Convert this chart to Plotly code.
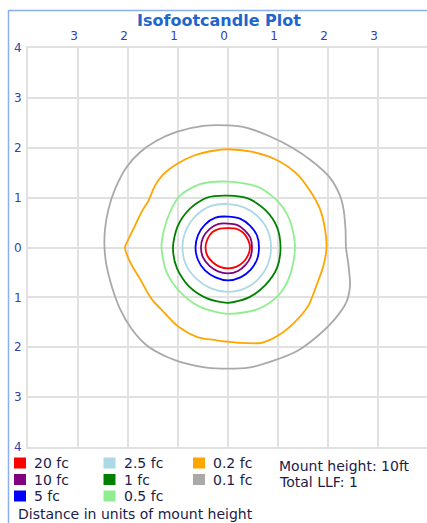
import plotly.graph_objects as go

# ---------------- data ----------------
levels = ["20 fc", "10 fc", "5 fc", "2.5 fc", "1 fc", "0.5 fc", "0.2 fc", "0.1 fc"]
colors = ["#ff0000", "#800080", "#0000ff", "#add8e6", "#008000", "#90ee90", "#ffa500", "#a9a9a9"]

red_x = [0.44, 0.40, 0.30, 0.16, 0.00, -0.16, -0.31, -0.41, -0.45, -0.41, -0.30, -0.16, 0.00, 0.16, 0.30, 0.40, 0.44]
red_y = [0.00, 0.16, 0.30, 0.38, 0.39, 0.38, 0.31, 0.17, 0.00, -0.17, -0.30, -0.39, -0.42, -0.39, -0.30, -0.16, 0.00]

purple_x = [0.48, 0.45, 0.34, 0.19, 0.00, -0.20, -0.37, -0.50, -0.54, -0.50, -0.37, -0.20, 0.00, 0.20, 0.35, 0.45, 0.48]
purple_y = [0.00, 0.19, 0.34, 0.45, 0.48, 0.47, 0.37, 0.20, 0.00, -0.20, -0.37, -0.48, -0.52, -0.47, -0.35, -0.19, 0.00]

blue_x = [0.62, 0.58, 0.44, 0.24, 0.00, -0.25, -0.46, -0.60, -0.65, -0.60, -0.46, -0.25, 0.00, 0.25, 0.45, 0.58, 0.62]
blue_y = [0.00, 0.24, 0.44, 0.58, 0.62, 0.60, 0.46, 0.25, 0.00, -0.25, -0.46, -0.60, -0.66, -0.60, -0.45, -0.24, 0.00]

lblue_x = [0.86, 0.80, 0.61, 0.33, 0.00, -0.35, -0.64, -0.84, -0.91, -0.84, -0.63, -0.34, 0.00, 0.34, 0.62, 0.80, 0.86]
lblue_y = [0.00, 0.33, 0.61, 0.80, 0.87, 0.83, 0.64, 0.35, 0.00, -0.35, -0.63, -0.82, -0.89, -0.82, -0.62, -0.33, 0.00]

green_x = [1.05, 0.98, 0.75, 0.41, 0.00, -0.42, -0.77, -1.01, -1.10, -1.02, -0.78, -0.42, 0.00, 0.42, 0.75, 0.98, 1.05]
green_y = [0.00, 0.41, 0.75, 0.98, 1.04, 1.00, 0.77, 0.42, 0.00, -0.42, -0.78, -1.02, -1.11, -1.00, -0.75, -0.41, 0.00]

lgreen_x = [1.34, 1.24, 1.01, 0.61, 0.00, -0.56, -0.96, -1.16, -1.29, -1.33, -1.23, -0.96, -0.56, 0.00, 0.61, 1.01, 1.24, 1.34]
lgreen_y = [0.00, 0.54, 0.91, 1.21, 1.32, 1.27, 1.04, 0.71, 0.31, 0.00, -0.49, -0.89, -1.19, -1.33, -1.23, -0.96, -0.56, 0.00]

orange_x = [1.97, 1.94, 1.84, 1.64, 1.34, 0.94, 0.47, 0.00, -0.29, -0.69, -1.03, -1.29, -1.46, -1.59, -1.73, -1.86, -1.99, -2.06,
            -1.96, -1.76, -1.53, -1.29, -0.99, -0.63, -0.23, 0.00, 0.21, 0.67, 1.01, 1.34, 1.61, 1.77, 1.91, 1.97]
orange_y = [0.00, 0.37, 0.77, 1.14, 1.51, 1.77, 1.92, 1.97, 1.94, 1.84, 1.67, 1.47, 1.24, 0.94, 0.71, 0.44, 0.17, 0.00,
            -0.29, -0.63, -1.03, -1.29, -1.59, -1.79, -1.86, -1.89, -1.91, -1.91, -1.76, -1.49, -1.16, -0.76, -0.36, 0.00]

gray_x = [2.36, 2.35, 2.31, 2.24, 2.03, 1.67, 1.27, 0.81, 0.34, 0.00, -0.49, -1.03, -1.43, -1.76, -2.03, -2.26, -2.39, -2.46, -2.47,
          -2.43, -2.33, -2.16, -1.93, -1.63, -1.23, -0.83, -0.43, 0.00, 0.41, 0.94, 1.41, 1.81, 2.14, 2.37, 2.44, 2.41, 2.36]
gray_y = [0.00, 0.37, 0.77, 1.04, 1.41, 1.74, 2.01, 2.24, 2.41, 2.45, 2.44, 2.32, 2.14, 1.91, 1.61, 1.17, 0.77, 0.37, 0.00,
          -0.36, -0.76, -1.23, -1.63, -1.96, -2.19, -2.33, -2.41, -2.43, -2.41, -2.26, -2.06, -1.76, -1.43, -1.09, -0.76, -0.36, 0.00]

contours_x = [red_x, purple_x, blue_x, lblue_x, green_x, lgreen_x, orange_x, gray_x]
contours_y = [red_y, purple_y, blue_y, lblue_y, green_y, lgreen_y, orange_y, gray_y]

x_ticks = [-4, -3, -2, -1, 0, 1, 2, 3, 4]
x_ticktext = ["", "3", "2", "1", "0", "1", "2", "3", ""]
y_ticks = [-4, -3, -2, -1, 0, 1, 2, 3, 4]
y_ticktext = ["4", "3", "2", "1", "0", "1", "2", "3", "4"]

info_lines = ["Mount height: 10ft", "Total LLF: 1"]
axis_note = "Distance in units of mount height"
title_text = "Isofootcandle Plot"

# ---------------- layout helpers (pixel -> paper) ----------------
W, H = 427, 523
L, T, B = 28, 48, 447
PW, PH = W - L, B - T


def px(x):
    return (x - L) / PW


def py(y):
    return (B - y) / PH


FONT = "DejaVu Sans"
TICK_COLOR = "#3443a8"
TEXT_COLOR = "#1c1c48"
GRID = "#e1e1e1"

fig = go.Figure()
# draw larger contours first so smaller ones sit on top
for i in reversed(range(len(levels))):
    fig.add_trace(go.Scatter(
        x=contours_x[i], y=contours_y[i], mode="lines",
        line=dict(color=colors[i], width=1.8, shape="spline", smoothing=0.8),
        name=levels[i], showlegend=False, hoverinfo="skip",
    ))

shapes = []
annotations = []

# custom legend (3 columns, column-major)
for i, (lab, col) in enumerate(zip(levels, colors)):
    c, r = divmod(i, 3)
    cy = 463 + r * 16.5
    sx = 14 + c * 89.5
    shapes.append(dict(type="rect", xref="paper", yref="paper",
                       x0=px(sx), x1=px(sx + 12), y0=py(cy + 5.5), y1=py(cy - 5.5),
                       fillcolor=col, line=dict(width=0)))
    annotations.append(dict(xref="paper", yref="paper", x=px(sx + 18), y=py(cy),
                            text=lab, showarrow=False, xanchor="left", yanchor="middle",
                            font=dict(family=FONT, size=14, color=TEXT_COLOR)))

for j, t in enumerate(info_lines):
    annotations.append(dict(xref="paper", yref="paper", x=px(277), y=py(466 + j * 15.5),
                            text=t, showarrow=False, xanchor="left", yanchor="middle",
                            font=dict(family=FONT, size=14, color=TEXT_COLOR)))

annotations.append(dict(xref="paper", yref="paper", x=px(16), y=py(514),
                        text=axis_note, showarrow=False, xanchor="left", yanchor="middle",
                        font=dict(family=FONT, size=14, color=TEXT_COLOR)))

annotations.append(dict(xref="paper", yref="paper", x=px(219), y=py(20),
                        text="<b>" + title_text + "</b>", showarrow=False,
                        xanchor="center", yanchor="middle",
                        font=dict(family=FONT, size=16, color="#1f66cc")))

# outer frame lines (left and top)
shapes.append(dict(type="line", xref="paper", yref="paper", x0=px(8.5), x1=px(8.5),
                   y0=py(10), y1=py(523), line=dict(color="#8ab0f0", width=1.5)))
shapes.append(dict(type="line", xref="paper", yref="paper", x0=px(8.5), x1=px(427),
                   y0=py(10.5), y1=py(10.5), line=dict(color="#8ab0f0", width=1.5)))

fig.update_layout(
    width=W, height=H,
    margin=dict(l=L, r=0, t=T, b=H - B, pad=0, autoexpand=False),
    paper_bgcolor="white", plot_bgcolor="white",
    showlegend=False,
    shapes=shapes, annotations=annotations,
    xaxis=dict(range=[-4, 4 - 0.02], side="top", tickvals=x_ticks, ticktext=x_ticktext,
               showgrid=True, gridcolor=GRID, gridwidth=2, zeroline=False,
               showline=True, linecolor=GRID, linewidth=2, mirror=True,
               ticks="", ticklabelshift=-4, ticklabelstandoff=1, automargin=False,
               tickfont=dict(family=FONT, size=12, color=TICK_COLOR), fixedrange=True),
    yaxis=dict(range=[-4, 4], tickvals=y_ticks, ticktext=y_ticktext,
               showgrid=True, gridcolor=GRID, gridwidth=2, zeroline=False,
               showline=True, linecolor=GRID, linewidth=2, automargin=False,
               ticks="", ticklabelstandoff=2,
               tickfont=dict(family=FONT, size=12, color=TICK_COLOR), fixedrange=True),
)

fig.write_html(
    "out.html",
    config={"displayModeBar": False},
    post_script="document.body.style.margin='0';document.body.style.overflow='hidden';",
)
